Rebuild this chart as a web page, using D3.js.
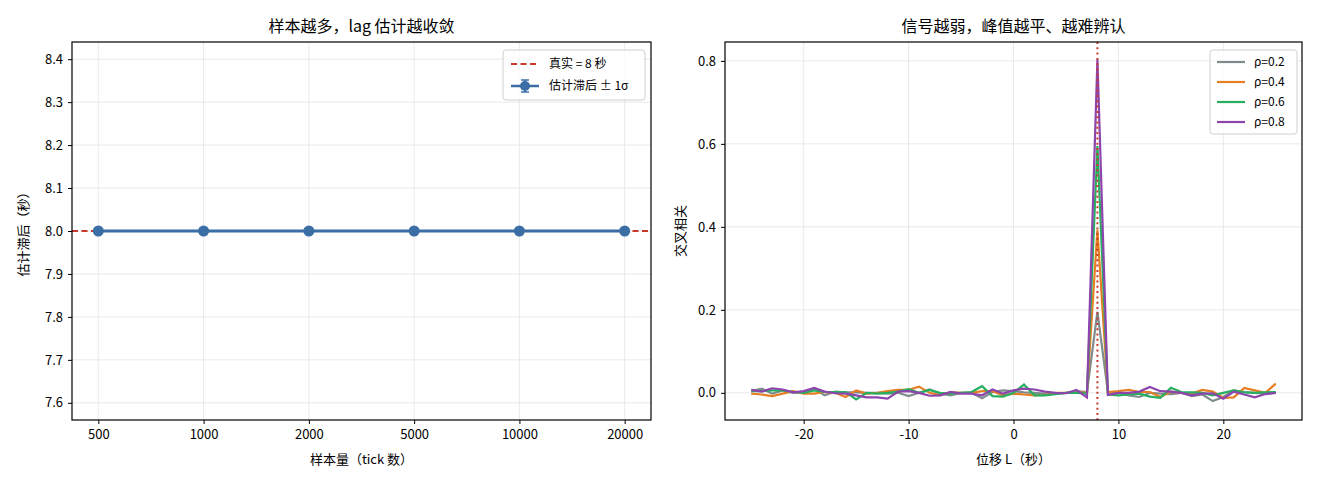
<!DOCTYPE html>
<html><head><meta charset="utf-8">
<script src="https://cdn.jsdelivr.net/npm/d3@7"></script>
<style>
body{margin:0;background:#fff;}
text{font-family:"Noto Sans CJK SC","DejaVu Sans",sans-serif;fill:#000;}
</style></head>
<body><svg id="c" width="1320" height="484"></svg>
<script>
// ---- data ----
const sampleSizes = ["500","1000","2000","5000","10000","20000"];
const lagEstimates = [8.0, 8.0, 8.0, 8.0, 8.0, 8.0];
const lagErrors = [0, 0, 0, 0, 0, 0];
const trueLag = 8;
const leftYTicks = [7.6, 7.7, 7.8, 7.9, 8.0, 8.1, 8.2, 8.3, 8.4];

const lags = d3.range(-25, 26);
const rhoLabels = ["ρ=0.2", "ρ=0.4", "ρ=0.6", "ρ=0.8"];
const ccf02 = [0.004,0.010,-0.002,0.006,0.000,0.001,0.010,-0.006,0.003,0.001,0.001,0.000,0.000,-0.002,0.000,-0.008,0.000,0.008,-0.002,-0.006,0.000,0.000,-0.013,0.002,0.006,0.004,0.001,0.000,-0.002,-0.002,0.000,0.004,0.002,0.195,0.002,0.000,-0.006,-0.010,0.000,-0.002,-0.003,0.000,-0.008,-0.004,-0.020,-0.010,0.006,0.002,0.000,-0.002,0.000];
const ccf04 = [-0.002,-0.004,-0.008,-0.002,0.004,-0.002,-0.002,0.002,0.000,-0.010,0.006,-0.002,0.000,0.004,0.007,0.007,0.015,0.000,-0.006,0.002,0.000,0.000,0.004,0.004,-0.006,-0.002,-0.004,-0.006,-0.005,0.000,0.000,0.000,0.001,0.392,0.002,0.004,0.007,0.002,0.002,-0.010,0.003,0.000,-0.002,0.007,0.003,-0.012,-0.011,0.012,0.006,0.000,0.022];
const ccf06 = [0.004,0.004,0.006,0.006,0.002,0.000,0.006,0.002,0.002,0.002,-0.016,0.000,-0.002,0.000,0.003,0.009,0.000,0.007,0.000,-0.002,0.000,0.002,0.016,-0.008,-0.009,0.000,0.020,-0.006,-0.006,-0.003,0.000,0.000,-0.002,0.595,-0.004,-0.006,-0.004,-0.002,-0.009,-0.012,0.012,0.002,0.001,0.000,-0.006,0.000,0.006,0.001,0.000,0.001,0.002];
const ccf08 = [0.007,0.003,0.011,0.008,0.001,0.004,0.012,0.003,-0.001,-0.002,-0.006,-0.011,-0.011,-0.014,0.003,0.004,0.000,-0.007,-0.006,0.002,-0.002,-0.002,-0.006,0.008,-0.002,0.006,0.010,0.008,0.003,0.000,-0.001,0.007,-0.011,0.803,-0.005,0.000,0.000,0.003,0.014,0.004,0.003,0.000,-0.006,-0.002,-0.001,-0.014,0.003,-0.004,-0.011,-0.003,0.000];
const rightYTicks = [0.0, 0.2, 0.4, 0.6, 0.8];
const rightXTicks = [-20, -10, 0, 10, 20];

// ---- styling ----
const colors = ["#7f8c8d", "#e67e22", "#27ae60", "#8e44ad"];
const blue = "#3a6ea5", red = "#c9382b";
const svg = d3.select("#c");

function frame(g, w, h) {
  g.append("rect").attr("x",0).attr("y",0).attr("width",w).attr("height",h)
    .attr("fill","none").attr("stroke","#000").attr("stroke-width",1.2);
}
function styleAxis(sel) {
  sel.select(".domain").remove();
  sel.selectAll(".tick line").attr("stroke","#000").attr("stroke-width",1);
  sel.selectAll(".tick text").attr("font-size",13).attr("fill","#000")
     .style("font-family","'Noto Sans CJK SC','DejaVu Sans',sans-serif");
}

// ---- Left panel ----
{
  const L = {x:72, y:42, w:579, h:378};
  const g = svg.append("g").attr("transform",`translate(${L.x},${L.y})`);
  const x = d3.scaleLinear().domain([-0.25, sampleSizes.length - 0.75]).range([0, L.w]);
  const y = d3.scaleLinear().domain([7.56, 8.44]).range([L.h, 0]);
  g.append("g").selectAll("line").data(sampleSizes).join("line")
    .attr("x1",(d,i)=>x(i)).attr("x2",(d,i)=>x(i)).attr("y1",0).attr("y2",L.h)
    .attr("stroke","#e6e6e6").attr("stroke-width",0.9);
  g.append("g").selectAll("line").data(leftYTicks).join("line")
    .attr("y1",d=>y(d)).attr("y2",d=>y(d)).attr("x1",0).attr("x2",L.w)
    .attr("stroke","#e6e6e6").attr("stroke-width",0.9);
  g.append("line").attr("x1",0).attr("x2",L.w).attr("y1",y(trueLag)).attr("y2",y(trueLag))
    .attr("stroke",red).attr("stroke-width",2).attr("stroke-dasharray","6,3.5");
  const line = d3.line().x((d,i)=>x(i)).y(d=>y(d));
  g.append("path").datum(lagEstimates).attr("d",line).attr("fill","none")
    .attr("stroke",blue).attr("stroke-width",3);
  g.append("g").selectAll("g").data(lagEstimates).join("g").each(function(d,i){
    const e = lagErrors[i], s = d3.select(this);
    s.append("line").attr("x1",x(i)).attr("x2",x(i)).attr("y1",y(d-e)).attr("y2",y(d+e))
      .attr("stroke",blue).attr("stroke-width",2);
    [d-e, d+e].forEach(v => s.append("line").attr("x1",x(i)-4).attr("x2",x(i)+4)
      .attr("y1",y(v)).attr("y2",y(v)).attr("stroke",blue).attr("stroke-width",2));
  });
  g.append("g").selectAll("circle").data(lagEstimates).join("circle")
    .attr("cx",(d,i)=>x(i)).attr("cy",d=>y(d)).attr("r",5.5).attr("fill",blue);
  frame(g, L.w, L.h);
  const xa = g.append("g").attr("transform",`translate(0,${L.h})`)
    .call(d3.axisBottom(x).tickValues(d3.range(sampleSizes.length)).tickFormat(i=>sampleSizes[i]).tickSize(4).tickPadding(6));
  styleAxis(xa);
  const ya = g.append("g").call(d3.axisLeft(y).tickValues(leftYTicks).tickFormat(d3.format(".1f")).tickSize(4).tickPadding(5));
  styleAxis(ya);
  g.append("text").attr("x",L.w/2).attr("y",-10).attr("text-anchor","middle").attr("font-size",16).text("样本越多，lag 估计越收敛");
  g.append("text").attr("x",L.w/2).attr("y",L.h+44).attr("text-anchor","middle").attr("font-size",13).text("样本量（tick 数）");
  g.append("text").attr("transform",`translate(${-44},${L.h/2}) rotate(-90)`).attr("text-anchor","middle").attr("font-size",13).text("估计滞后（秒）");
  const lg = g.append("g").attr("transform",`translate(${L.w-148},8)`);
  lg.append("rect").attr("width",142).attr("height",50).attr("rx",3).attr("fill","#fff").attr("fill-opacity",0.8).attr("stroke","#d0d0d0");
  lg.append("line").attr("x1",8).attr("x2",36).attr("y1",14).attr("y2",14).attr("stroke",red).attr("stroke-width",2).attr("stroke-dasharray","6,3.5");
  lg.append("text").attr("x",46).attr("y",18).attr("font-size",12).text("真实 = 8 秒");
  lg.append("line").attr("x1",8).attr("x2",36).attr("y1",36).attr("y2",36).attr("stroke",blue).attr("stroke-width",2.5);
  lg.append("line").attr("x1",22).attr("x2",22).attr("y1",30).attr("y2",42).attr("stroke",blue).attr("stroke-width",1.5);
  lg.append("line").attr("x1",18).attr("x2",26).attr("y1",30).attr("y2",30).attr("stroke",blue).attr("stroke-width",1.5);
  lg.append("line").attr("x1",18).attr("x2",26).attr("y1",42).attr("y2",42).attr("stroke",blue).attr("stroke-width",1.5);
  lg.append("circle").attr("cx",22).attr("cy",36).attr("r",5).attr("fill",blue);
  lg.append("text").attr("x",46).attr("y",40).attr("font-size",12).text("估计滞后 ± 1σ");
}

// ---- Right panel ----
{
  const R = {x:725, y:42, w:577, h:378};
  const g = svg.append("g").attr("transform",`translate(${R.x},${R.y})`);
  const x = d3.scaleLinear().domain([-27.5, 27.5]).range([0, R.w]);
  const y = d3.scaleLinear().domain([-0.0655, 0.8455]).range([R.h, 0]);
  g.append("g").selectAll("line").data(rightXTicks).join("line")
    .attr("x1",d=>x(d)).attr("x2",d=>x(d)).attr("y1",0).attr("y2",R.h)
    .attr("stroke","#e6e6e6").attr("stroke-width",0.9);
  g.append("g").selectAll("line").data(rightYTicks).join("line")
    .attr("y1",d=>y(d)).attr("y2",d=>y(d)).attr("x1",0).attr("x2",R.w)
    .attr("stroke","#e6e6e6").attr("stroke-width",0.9);
  const series = [ccf02, ccf04, ccf06, ccf08];
  const line = d3.line().x((d,i)=>x(lags[i])).y(d=>y(d));
  series.forEach((s,k)=>{
    g.append("path").datum(s).attr("d",line).attr("fill","none")
      .attr("stroke",colors[k]).attr("stroke-width",2.2).attr("stroke-linejoin","miter");
  });
  g.append("line").attr("x1",x(trueLag)).attr("x2",x(trueLag)).attr("y1",0).attr("y2",R.h)
    .attr("stroke",red).attr("stroke-width",2).attr("stroke-dasharray","2,3.3");
  frame(g, R.w, R.h);
  const xa = g.append("g").attr("transform",`translate(0,${R.h})`)
    .call(d3.axisBottom(x).tickValues(rightXTicks).tickFormat(d=>String(d)).tickSize(4).tickPadding(6));
  styleAxis(xa);
  const ya = g.append("g").call(d3.axisLeft(y).tickValues(rightYTicks).tickFormat(d3.format(".1f")).tickSize(4).tickPadding(5));
  styleAxis(ya);
  g.append("text").attr("x",R.w/2).attr("y",-10).attr("text-anchor","middle").attr("font-size",16).text("信号越弱，峰值越平、越难辨认");
  g.append("text").attr("x",R.w/2).attr("y",R.h+44).attr("text-anchor","middle").attr("font-size",13).text("位移 L（秒）");
  g.append("text").attr("transform",`translate(${-40},${R.h/2}) rotate(-90)`).attr("text-anchor","middle").attr("font-size",13).text("交叉相关");
  const lg = g.append("g").attr("transform",`translate(${R.w-92},8)`);
  lg.append("rect").attr("width",87).attr("height",84).attr("rx",3).attr("fill","#fff").attr("fill-opacity",0.8).attr("stroke","#d0d0d0");
  rhoLabels.forEach((t,k)=>{
    lg.append("line").attr("x1",7).attr("x2",35).attr("y1",12+k*20).attr("y2",12+k*20).attr("stroke",colors[k]).attr("stroke-width",2.2);
    lg.append("text").attr("x",44).attr("y",16+k*20).attr("font-size",12).text(t);
  });
}
</script></body></html>
